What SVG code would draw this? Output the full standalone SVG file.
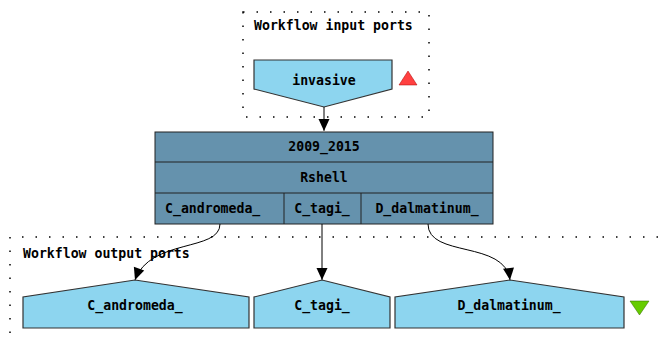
<svg xmlns="http://www.w3.org/2000/svg" width="658" height="343" viewBox="0 0 658 343">
<style>
text{font-family:"DejaVu Sans Mono","Liberation Mono",monospace;font-weight:bold;font-size:13.2px;fill:#000}
.c{text-anchor:middle}
.cluster{fill:none;stroke:#000;stroke-width:1.5;stroke-dasharray:1.5,12}
.port{fill:#8dd5ef;stroke:#333;stroke-width:1.2}
.proc{fill:#6592ad;stroke:#222;stroke-width:1}
.edge{fill:none;stroke:#000;stroke-width:1}
</style>
<defs>
<marker id="ah" viewBox="0 0 10 12" refX="12" refY="6" markerWidth="12" markerHeight="12" markerUnits="userSpaceOnUse" orient="auto">
<path d="M0,0.5 L12,6 L0,11.5 z" fill="#000"/>
</marker>
</defs>
<g id="cluster_input">
<rect class="cluster" x="243" y="12" width="186" height="105"/>
<text x="254" y="30">Workflow input ports</text>
</g>
<g id="cluster_output">
<path class="cluster" d="M10,360 L10,237 L670,237"/>
<text x="23" y="258">Workflow output ports</text>
</g>
<g id="in_invasive">
<polygon class="port" points="254,60 392,60 392,89 324,107 254,89"/>
<text class="c" x="324" y="85">invasive</text>
<polygon points="399,85 408,71 417,85" fill="#ff4040" stroke="#a00" stroke-width="0.5"/>
</g>
<g id="proc_Rshell">
<rect class="proc" x="155" y="132" width="338" height="92"/>
<line class="proc" x1="155" y1="162" x2="493" y2="162"/>
<line class="proc" x1="155" y1="193" x2="493" y2="193"/>
<line class="proc" x1="284" y1="193" x2="284" y2="224"/>
<line class="proc" x1="361" y1="193" x2="361" y2="224"/>
<text class="c" x="324" y="151">2009_2015</text>
<text class="c" x="324" y="182">Rshell</text>
<text x="165" y="213">C_andromeda_</text>
<text class="c" x="322" y="213">C_tagi_</text>
<text class="c" x="427" y="213">D_dalmatinum_</text>
</g>
<g id="out_C_andromeda_">
<polygon class="port" points="23,328 23,297 135,280 249,297 249,328"/>
<text class="c" x="135" y="310">C_andromeda_</text>
</g>
<g id="out_C_tagi_">
<polygon class="port" points="254,328 254,297 322,280 390,297 390,328"/>
<text class="c" x="322" y="310">C_tagi_</text>
</g>
<g id="out_D_dalmatinum_">
<polygon class="port" points="395,328 395,297 510,280 624,297 624,328"/>
<text class="c" x="509" y="310">D_dalmatinum_</text>
<polygon points="630,301 649,301 639.5,315" fill="#66cc00" stroke="#360" stroke-width="0.5"/>
</g>
<g id="connectors">
<path class="edge" d="M324,107 L324,131" marker-end="url(#ah)"/>
<path class="edge" d="M220,224 C220,252 150,238 135,280" marker-end="url(#ah)"/>
<path class="edge" d="M322,224 L322,280" marker-end="url(#ah)"/>
<path class="edge" d="M428,224 C428,258 505,240 510,280" marker-end="url(#ah)"/>
</g>
</svg>
